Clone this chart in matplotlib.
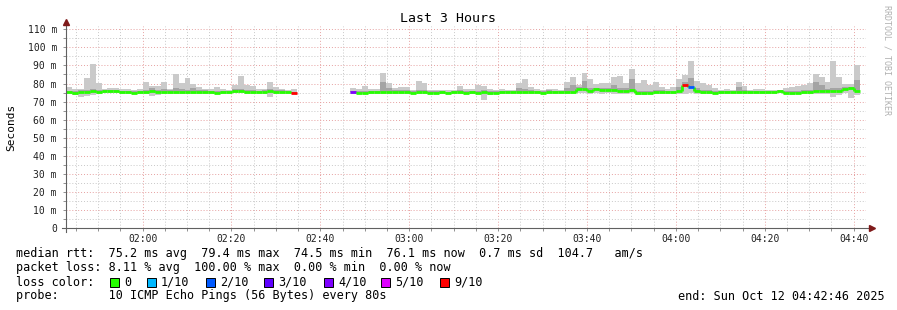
import numpy as np
import matplotlib
matplotlib.use("Agg")
import matplotlib.pyplot as plt
from matplotlib.patches import Rectangle
from matplotlib.lines import Line2D

nan = np.nan

# ---------------- data (one column per 80 s step) ----------------
step_s = 80
median_ms = [
    75.1, 74.6, 75.4, 75.4, 75.6, 75.5, 75.6, 76.0, 76.0, 75.4,
    75.4, 74.7, 75.3, 75.4, 75.6, 75.3, 75.2, 75.4, 75.4, 75.3,
    75.1, 75.3, 75.3, 75.2, 75.3, 75.0, 75.3, 75.3, 76.0, 76.0,
    75.4, 75.3, 75.3, 75.5, 75.8, 75.5, 75.3, 75.2, 74.5,
    nan, nan, nan, nan, nan, nan, nan, nan, nan,
    75.2, 74.7, 74.7, 75.3, 75.3, 75.5, 75.4, 75.3, 75.3, 75.4,
    74.8, 75.3, 75.3, 74.7, 74.9, 75.2, 74.6, 75.1, 75.3, 74.8,
    75.2, 74.8, 75.3, 75.0, 74.8, 75.2, 75.2, 75.3, 75.3, 75.3,
    75.3, 75.3, 75.0, 75.3, 75.3, 75.3, 75.4, 75.4, 76.8, 76.9,
    75.8, 76.8, 76.2, 76.6, 76.2, 75.6, 75.6, 76.4, 74.9, 74.9,
    75.0, 75.2, 75.2, 75.2, 75.2, 76.0, 79.4, 77.9, 75.6, 75.4,
    75.3, 74.7, 75.2, 75.2, 75.2, 75.3, 75.3, 75.3, 75.3, 75.3,
    75.3, 75.3, 75.8, 75.0, 74.6, 75.0, 75.4, 75.5, 75.8, 75.8,
    75.6, 75.6, 75.9, 77.2, 77.5, 76.1,
]
min_ms = [
    74.2, 73.6, 72.4, 73.0, 73.6, 74.4, 74.6, 75.0, 74.6, 74.4,
    74.4, 74.0, 74.4, 74.4, 73.2, 73.6, 74.0, 74.4, 74.0, 74.4,
    74.4, 74.2, 74.0, 74.4, 74.4, 74.2, 74.4, 74.4, 75.0, 74.6,
    74.4, 74.4, 74.4, 74.4, 72.7, 74.0, 74.4, 74.4, 74.0,
    nan, nan, nan, nan, nan, nan, nan, nan, nan,
    74.0, 74.2, 74.0, 74.4, 74.4, 74.4, 74.4, 74.4, 74.4, 74.4,
    74.2, 74.4, 74.4, 74.2, 74.2, 74.4, 74.0, 74.4, 74.4, 74.2,
    74.4, 74.2, 70.9, 73.5, 74.0, 74.4, 74.4, 74.4, 74.4, 74.4,
    74.4, 74.4, 74.2, 74.4, 74.4, 74.4, 74.4, 74.4, 74.8, 74.6,
    74.4, 74.6, 74.4, 74.6, 74.4, 74.4, 74.4, 74.6, 73.8, 73.8,
    74.2, 74.4, 74.4, 74.4, 74.4, 74.4, 74.4, 74.8, 74.4, 74.4,
    74.4, 74.2, 74.4, 74.4, 74.4, 74.4, 74.4, 74.4, 74.4, 74.4,
    74.4, 74.4, 74.8, 74.2, 73.8, 74.2, 74.4, 74.4, 74.4, 74.4,
    74.4, 72.4, 73.6, 74.6, 72.0, 73.6,
]
max_ms = [
    77.9, 77.1, 77.1, 83.0, 90.8, 80.5, 77.1, 77.5, 77.3, 76.8,
    77.1, 76.5, 76.9, 80.8, 78.6, 78.6, 80.8, 77.1, 85.3, 80.5,
    83.0, 79.7, 77.9, 77.1, 77.1, 77.9, 76.8, 76.6, 79.0, 84.2,
    79.0, 78.6, 77.1, 77.1, 80.8, 78.2, 77.1, 76.4, 76.8,
    nan, nan, nan, nan, nan, nan, nan, nan, nan,
    77.5, 76.8, 78.6, 76.8, 76.8, 86.0, 80.5, 77.5, 77.9, 77.9,
    76.6, 81.6, 80.1, 76.4, 76.4, 76.4, 76.4, 76.4, 78.6, 76.8,
    76.8, 79.0, 78.6, 76.8, 76.4, 76.8, 76.4, 76.4, 80.1, 82.3,
    78.2, 76.8, 76.4, 77.1, 76.8, 76.4, 80.8, 83.4, 79.0, 86.0,
    82.7, 79.7, 80.1, 80.5, 83.8, 84.2, 80.1, 88.2, 80.5, 81.9,
    79.0, 80.8, 78.2, 77.1, 77.9, 82.7, 84.9, 92.6, 81.6, 80.1,
    79.0, 77.5, 76.4, 77.1, 76.4, 80.8, 78.4, 76.6, 77.1, 77.1,
    76.6, 76.6, 76.6, 77.5, 78.0, 78.4, 79.0, 80.3, 85.3, 83.8,
    80.8, 92.6, 83.8, 79.7, 79.7, 90.1,
]
inner_hi_ms = [
    76.0, 75.6, 76.2, 76.4, 76.8, 76.6, 76.4, 76.6, 76.6, 75.8,
    76.0, 75.6, 75.8, 76.6, 77.6, 76.6, 76.8, 76.2, 77.5, 76.8,
    76.6, 77.4, 76.4, 76.4, 76.0, 76.0, 76.0, 76.0, 77.0, 77.0,
    76.6, 76.4, 76.0, 76.2, 77.0, 76.6, 76.2, 75.8, 75.4,
    nan, nan, nan, nan, nan, nan, nan, nan, nan,
    76.0, 75.6, 75.8, 75.8, 75.8, 80.8, 77.5, 76.2, 76.2, 76.4,
    75.6, 76.6, 76.4, 75.6, 75.6, 75.8, 75.4, 75.8, 76.2, 75.6,
    75.8, 75.8, 76.2, 75.8, 75.6, 75.8, 75.8, 75.8, 77.5, 77.0,
    76.4, 76.0, 75.8, 76.2, 75.8, 75.8, 77.5, 79.4, 77.8, 81.2,
    77.6, 77.6, 77.4, 77.4, 79.0, 77.6, 77.5, 82.3, 76.0, 76.0,
    76.0, 76.4, 76.2, 76.0, 76.0, 78.0, 81.0, 83.0, 77.5, 76.6,
    76.4, 75.8, 75.8, 75.8, 75.8, 78.0, 76.2, 75.8, 75.8, 75.8,
    75.8, 75.8, 76.2, 75.8, 75.6, 75.8, 76.4, 76.6, 80.8, 79.0,
    77.0, 77.6, 77.6, 77.8, 78.2, 82.0,
]
loss_tenths = [0] * 134
for i in range(39, 48):
    loss_tenths[i] = 10
loss_tenths[38] = 9
loss_tenths[48] = 4
loss_tenths[104] = 9
loss_tenths[105] = 2

loss_colors = {0: "#26ff00", 1: "#00b8ff", 2: "#0059ff", 3: "#5e00ff",
               4: "#7e00ff", 5: "#dd00ff", 9: "#ff0000", 10: "#ff0000"}
legend_loss = ["0", "1/10", "2/10", "3/10", "4/10", "5/10", "9/10"]
legend_keys = [0, 1, 2, 3, 4, 5, 9]

start_label = "01:42:46"
xtick_labels = ["02:00", "02:20", "02:40", "03:00", "03:20", "03:40", "04:00", "04:20", "04:40"]
ytick_vals = [0, 10, 20, 30, 40, 50, 60, 70, 80, 90, 100, 110]

stats_lines = [
    "median rtt:  75.2 ms avg  79.4 ms max  74.5 ms min  76.1 ms now  0.7 ms sd  104.7   am/s",
    "packet loss: 8.11 % avg  100.00 % max  0.00 % min  0.00 % now",
]
probe_text = "probe:       10 ICMP Echo Pings (56 Bytes) every 80s"
end_text = "end: Sun Oct 12 04:42:46 2025"

# ---------------- figure ----------------
W, H = 897, 310
MONO = "DejaVu Sans Mono"
fig = plt.figure(figsize=(W / 100, H / 100), dpi=100)
fig.patch.set_facecolor("white")

ax_l, ax_r, ax_b, ax_t = 66, 866, 228, 26
ax = fig.add_axes([ax_l / W, 1 - ax_b / H, (ax_r - ax_l) / W, (ax_b - ax_t) / H])
total_s = 3 * 3600
ymax = (ax_b - ax_t) / 1.806
ax.set_xlim(0, total_s)
ax.set_ylim(0, ymax)

med = np.array(median_ms, dtype=float)
lo = np.array(min_ms, dtype=float)
hi = np.array(max_ms, dtype=float)
ihi = np.array(inner_hi_ms, dtype=float)
t = np.arange(len(med)) * step_s

def to_s(hhmmss):
    p = [int(v) for v in hhmmss.split(":")]
    while len(p) < 3:
        p.append(0)
    return p[0] * 3600 + p[1] * 60 + p[2]

t0 = to_s(start_label)
xt = [to_s(l) - t0 for l in xtick_labels]
first_minor = (to_s("01:45") - t0)
ax.set_xticks(xt)
ax.set_xticklabels(xtick_labels)
ax.set_xticks(np.arange(first_minor, total_s, 300), minor=True)
ax.set_yticks(ytick_vals)
ax.set_yticklabels(["0"] + [f"{v} m" for v in ytick_vals[1:]])
ax.set_yticks(np.arange(5, 112, 10), minor=True)

ax.grid(which="minor", color="#c8c8c8", linestyle=(0, (1, 2)), linewidth=0.7)
ax.grid(which="major", color="#e6a0a0", linestyle=(0, (1, 2)), linewidth=0.7)
ax.set_axisbelow(True)

for s in ax.spines.values():
    s.set_visible(False)
ax.tick_params(which="both", length=2.5, width=0.7, color="#909090", labelsize=7)
ax.tick_params(axis="x", pad=2)
ax.tick_params(axis="y", pad=4)
for lab in ax.get_xticklabels() + ax.get_yticklabels():
    lab.set_fontfamily(MONO)
    lab.set_color("#202020")

# smoke
ax.bar(t, hi - lo, bottom=lo, width=step_s, align="edge", color="#cacaca", linewidth=0, zorder=2)
ax.bar(t, ihi - med, bottom=med, width=step_s, align="edge", color="#a4a4a4", linewidth=0, zorder=2.1)

# median line: vertical joins + coloured horizontal pieces
for i in range(len(med) - 1):
    if not np.isnan(med[i]) and not np.isnan(med[i + 1]):
        ax.vlines(t[i] + step_s, min(med[i], med[i + 1]), max(med[i], med[i + 1]),
                  colors=loss_colors[0], linewidth=2.0, zorder=3)
cols = [loss_colors[l] for l in loss_tenths]
ax.hlines(med, t, t + step_s, colors=cols, linewidth=2.0, zorder=3.1,
          capstyle="butt")

def fx(x):
    return x / W

def fy(y):
    return 1 - y / H

fig.add_artist(Line2D([fx(62), fx(870)], [fy(228), fy(228)], color="#606060", lw=0.8))
fig.add_artist(Line2D([fx(66), fx(66)], [fy(232), fy(22)], color="#606060", lw=0.8))
fig.add_artist(Line2D([fx(872)], [fy(228)], marker=">", color="#7f1a1a", markersize=4.5, linestyle="none"))
fig.add_artist(Line2D([fx(66)], [fy(22)], marker="^", color="#7f1a1a", markersize=4.5, linestyle="none"))

fig.text(fx(448), fy(19), "Last 3 Hours", ha="center", va="center",
         fontsize=9.5, family=MONO, color="#000000")
fig.text(fx(11), fy(127), "Seconds", ha="center", va="center", rotation=90,
         fontsize=8, family=MONO, color="#000000")
fig.text(fx(887), fy(5), "RRDTOOL / TOBI OETIKER", ha="center", va="top", rotation=270,
         fontsize=6.0, family=MONO, color="#b0b0b0")

fs = 8.5
fig.text(fx(16), fy(254), stats_lines[0], ha="left", va="center", fontsize=fs, family=MONO)
fig.text(fx(16), fy(268), stats_lines[1], ha="left", va="center", fontsize=fs, family=MONO)
fig.text(fx(16), fy(282), "loss color:", ha="left", va="center", fontsize=fs, family=MONO)
box_x = [110, 147, 206, 264, 324, 381, 440]
for bx, key, lab in zip(box_x, legend_keys, legend_loss):
    fig.add_artist(Rectangle((fx(bx), fy(287)), 9 / W, 9 / H, facecolor=loss_colors[key],
                             edgecolor="black", linewidth=0.7))
    fig.text(fx(bx + 14), fy(282), lab, ha="left", va="center", fontsize=fs, family=MONO)
fig.text(fx(16), fy(296), probe_text, ha="left", va="center", fontsize=fs, family=MONO)
fig.text(fx(678), fy(296), end_text, ha="left", va="center", fontsize=fs, family=MONO)

fig.savefig("out.png", dpi=100, facecolor="white")
